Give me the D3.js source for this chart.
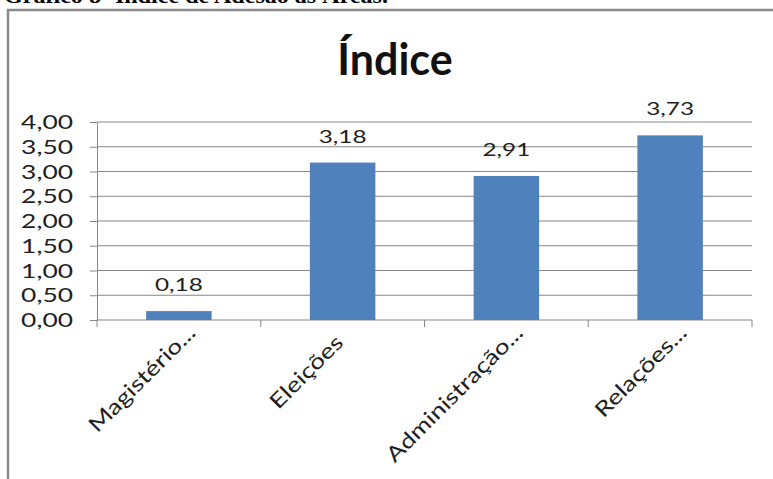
<!DOCTYPE html>
<html>
<head>
<meta charset="utf-8">
<script src="https://cdn.jsdelivr.net/npm/d3@7"></script>
<style>
  html, body { margin: 0; padding: 0; background: #fff; }
  svg { display: block; }
</style>
</head>
<body>
<svg id="chart" width="773" height="479"></svg>
<script>
// Chart data
const categories = ["Magistério...", "Eleições", "Administração...", "Relações..."];
const values = [0.18, 3.18, 2.91, 3.73];
const yTicks = [0, 0.5, 1, 1.5, 2, 2.5, 3, 3.5, 4];
const chartTitle = "Índice";
const caption = "Gráfico 8- Índice de Adesão às Áreas.";

const svg = d3.select("#chart");
const W = 773, H = 479;
const margin = { left: 97, right: 21, top: 122, bottom: 159 };

const fmt = v => d3.format(".2f")(v).replace(".", ",");
const font = "Lato, 'Open Sans', sans-serif";

// Caption above the frame (runs off the top edge)
svg.append("text")
  .attr("x", 4).attr("y", 3)
  .attr("font-family", "'Liberation Serif', 'Times New Roman', serif")
  .attr("font-weight", "bold")
  .attr("font-size", 20)
  .attr("textLength", 384)
  .attr("lengthAdjust", "spacingAndGlyphs")
  .attr("fill", "#000")
  .text(caption);

// Frame
svg.append("path")
  .attr("d", `M8,${H} V10 H${W}`)
  .attr("fill", "none")
  .attr("stroke", "#8a8a8a")
  .attr("stroke-width", 2.5);

// Scales
const x = d3.scaleBand()
  .domain(categories)
  .range([margin.left, W - margin.right])
  .paddingInner(0.6)
  .paddingOuter(0.3);

const y = d3.scaleLinear()
  .domain([0, 4])
  .range([H - margin.bottom, margin.top]);

const x0 = margin.left, x1 = W - margin.right;

// Gridlines
svg.append("g")
  .selectAll("line")
  .data(yTicks.filter(t => t > 0))
  .join("line")
  .attr("x1", x0).attr("x2", x1)
  .attr("y1", d => y(d)).attr("y2", d => y(d))
  .attr("stroke", "#878787")
  .attr("stroke-width", 1);

// Y axis
const yAxis = svg.append("g")
  .attr("transform", `translate(${x0},0)`)
  .call(d3.axisLeft(y).tickValues(yTicks).tickFormat("").tickSize(7).tickSizeOuter(0));
yAxis.select(".domain").attr("stroke", "#878787");
yAxis.selectAll(".tick line").attr("stroke", "#878787");

// Y tick labels (widened glyphs)
svg.append("g")
  .selectAll("text")
  .data(yTicks)
  .join("text")
  .attr("transform", d => `translate(73,${y(d) + 7}) scale(1.32,1)`)
  .attr("text-anchor", "end")
  .attr("font-family", font)
  .attr("font-size", 20)
  .attr("fill", "#1e1e1e")
  .text(d => fmt(d));

// X axis with ticks at category boundaries
const bounds = [x0];
categories.forEach((c, i) => bounds.push(x0 + (x1 - x0) * (i + 1) / categories.length));
const xAxisG = svg.append("g");
xAxisG.append("line")
  .attr("x1", x0).attr("x2", x1)
  .attr("y1", y(0)).attr("y2", y(0))
  .attr("stroke", "#878787");
xAxisG.selectAll("line.tk")
  .data(bounds)
  .join("line")
  .attr("class", "tk")
  .attr("x1", d => d).attr("x2", d => d)
  .attr("y1", y(0)).attr("y2", y(0) + 7)
  .attr("stroke", "#878787");

// Bars
svg.append("g")
  .selectAll("rect")
  .data(values)
  .join("rect")
  .attr("x", (d, i) => x(categories[i]))
  .attr("width", x.bandwidth())
  .attr("y", d => y(d))
  .attr("height", d => y(0) - y(d))
  .attr("fill", "#4f81bd");

// Value labels
svg.append("g")
  .selectAll("text")
  .data(values)
  .join("text")
  .attr("transform", (d, i) => `translate(${x(categories[i]) + x.bandwidth() / 2},${y(d) - 20}) scale(1.35,1)`)
  .attr("text-anchor", "middle")
  .attr("font-family", font)
  .attr("font-size", 18)
  .attr("fill", "#1e1e1e")
  .text(d => fmt(d));

// Category labels, rotated 45 degrees; truncated names (ending in "...")
// sit a little further along the slant
svg.append("g")
  .selectAll("text")
  .data(categories)
  .join("text")
  .attr("transform", d => {
    const cut = d.endsWith("...");
    const cx = x(d) + x.bandwidth() / 2 + (cut ? 18 : 2);
    const cy = y(0) + (cut ? 14 : 24);
    return `translate(${cx},${cy}) rotate(-45) scale(1.25,1)`;
  })
  .attr("text-anchor", "end")
  .attr("font-family", font)
  .attr("font-size", 21)
  .attr("fill", "#1e1e1e")
  .text(d => d);

// Chart title
svg.append("text")
  .attr("x", 395).attr("y", 75)
  .attr("text-anchor", "middle")
  .attr("font-family", font)
  .attr("font-weight", "bold")
  .attr("font-size", 43)
  .attr("fill", "#111")
  .text(chartTitle);
</script>
</body>
</html>
